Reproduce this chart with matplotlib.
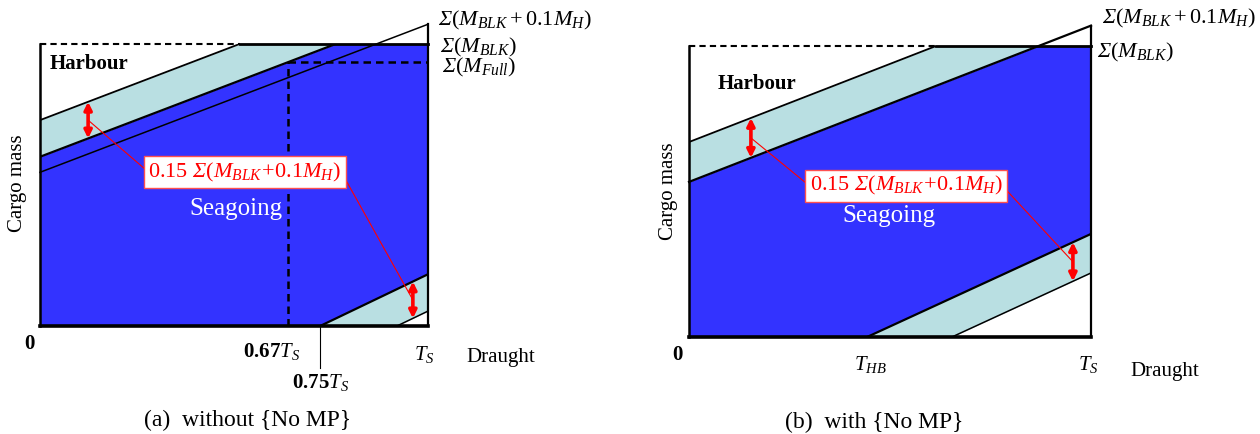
import numpy as np
import matplotlib
matplotlib.use("Agg")
import matplotlib.pyplot as plt

plt.rcParams['font.family'] = ['Liberation Serif', 'DejaVu Serif']
plt.rcParams['mathtext.fontset'] = 'custom'
plt.rcParams['mathtext.rm'] = 'Liberation Serif'
plt.rcParams['mathtext.it'] = 'Liberation Serif:italic'
plt.rcParams['mathtext.bf'] = 'Liberation Serif:bold'
# italic capital sigma (mathtext forces Greek capitals upright in \mathit)
plt.rcParams['mathtext.sf'] = 'Liberation Serif:italic'

# draught as fraction of T_S, cargo mass as fraction of sum(M_BLK)
# panel (a): without {No MP}
a_upper_slope = 0.525
a_upper_icpt = [0.73, 0.60, 0.545]      # harbour limit, seagoing limit, sum(M_BLK+0.1M_H)
a_lower_slope = 0.66
a_lower_start = [0.722, 0.92]            # seagoing lower limit, harbour lower limit
a_full_draught = 0.64
a_full_mass = 0.936
a_arrow_x = [0.124, 0.961]
a_xlabels = [r'$\mathbf{0.67}\mathit{T}_S$', r'$\mathbf{0.75}\mathit{T}_S$']

# panel (b): with {No MP}
b_upper_slope = 0.537
b_upper_icpt = [0.670, 0.533]
b_lower_slope = 0.636
b_lower_start = [0.443, 0.654]
b_arrow_x = [0.154, 0.955]

BLUE = '#3333ff'
LIGHT = '#b9dfe2'
RED = '#ff0000'
SIG = r'\mathsf{\Sigma}'
BOX_LABEL = r'0.15 $' + SIG + r'(M_{BLK}\!+\!0.1M_H)$'
LAB_TOT = r'$' + SIG + r'(M_{BLK}+0.1M_H)$'
LAB_BLK = r'$' + SIG + r'(M_{BLK})$'
LAB_FULL = r'$' + SIG + r'(M_{Full})$'

fig = plt.figure(figsize=(12.6, 4.34), dpi=100)
ax_a = fig.add_axes([40/1260, 108/434, 388/1260, 282/434])
ax_b = fig.add_axes([689/1260, 97/434, 402/1260, 291/434])

xs = np.linspace(0, 1, 801)


def panel(ax, s_up, icpt_up, s_lo, start_lo, arrow_x, box_xy, draw_l2_full, top):
    ax.set_xlim(0, 1)
    ax.set_ylim(0, 1)
    ax.axis('off')
    L1 = icpt_up[0] + s_up * xs
    L2 = icpt_up[1] + s_up * xs
    L4 = s_lo * (xs - start_lo[0])
    L5 = s_lo * (xs - start_lo[1])
    ax.fill_between(xs, np.minimum(L2, 1), np.minimum(L1, 1), color=LIGHT, lw=0)
    ax.fill_between(xs, np.maximum(L4, 0), np.minimum(L2, 1), color=BLUE, lw=0)
    ax.fill_between(xs, np.maximum(L5, 0), np.maximum(L4, 0), color=LIGHT, lw=0)

    x1 = (1 - icpt_up[0]) / s_up
    x2 = (1 - icpt_up[1]) / s_up
    ax.plot([0, x1], [icpt_up[0], 1], color='k', lw=1.3, zorder=3)
    if draw_l2_full:
        ax.plot([0, 1], [icpt_up[1], icpt_up[1] + s_up], color='k', lw=1.6,
                clip_on=False, zorder=3)
    else:
        ax.plot([0, x2], [icpt_up[1], 1], color='k', lw=1.6, zorder=3)
    ax.plot([start_lo[0], 1], [0, s_lo * (1 - start_lo[0])], color='k', lw=1.6, zorder=3)
    ax.plot([start_lo[1], 1], [0, s_lo * (1 - start_lo[1])], color='k', lw=1.1, zorder=3)

    # frame
    ax.plot([0, x1], [1, 1], color='k', lw=1.5, ls=(0, (3, 2)), clip_on=False, zorder=3)
    ax.plot([x1, 1], [1, 1], color='k', lw=2.0, clip_on=False, zorder=3)
    ax.plot([0, 0], [0, 1], color='k', lw=1.8, clip_on=False, zorder=3)
    ax.plot([0, 1], [0, 0], color='k', lw=2.6, clip_on=False, zorder=3)
    ax.plot([1, 1], [0, top], color='k', lw=1.6, clip_on=False, zorder=3)

    # 0.15 arrows
    mids = []
    spans = [(icpt_up[1] + s_up * arrow_x[0], icpt_up[0] + s_up * arrow_x[0]),
             (s_lo * (arrow_x[1] - start_lo[1]), s_lo * (arrow_x[1] - start_lo[0]))]
    for x, (lo, hi) in zip(arrow_x, spans):
        ax.annotate('', xy=(x, hi), xytext=(x, lo),
                    arrowprops=dict(arrowstyle='<|-|>', color=RED, lw=2.6,
                                    mutation_scale=11, shrinkA=0, shrinkB=0), zorder=6)
        mids.append((x, (lo + hi) / 2))
    t = ax.text(box_xy[0], box_xy[1], BOX_LABEL, color=RED, fontsize=16,
                ha='center', va='center', zorder=8,
                bbox=dict(boxstyle='square,pad=0.22', fc='white', ec='#ff5050', lw=1.0))
    for m, fx in zip(mids, [0, 1]):
        ax.annotate('', xy=m, xytext=(fx, 0.5), textcoords=t,
                    arrowprops=dict(arrowstyle='-', color=RED, lw=0.8,
                                    shrinkA=0, shrinkB=0), zorder=5)
    return t


panel(ax_a, a_upper_slope, a_upper_icpt, a_lower_slope, a_lower_start,
      a_arrow_x, (0.528, 0.546), False, a_upper_icpt[2] + a_upper_slope)
# thin line sum(M_BLK+0.1M_H) and the full-load corner
ax_a.plot([0, 1], [a_upper_icpt[2], a_upper_icpt[2] + a_upper_slope], color='k', lw=1.1,
          clip_on=False, zorder=3)
ax_a.plot([a_full_draught, a_full_draught], [0, a_full_mass], color='k', lw=1.8,
          ls=(0, (3, 2)), zorder=3)
ax_a.plot([a_full_draught, 1], [a_full_mass, a_full_mass], color='k', lw=1.8,
          ls=(0, (3, 2)), zorder=3)
ax_a.plot([a_lower_start[0], a_lower_start[0]], [0, -0.15], color='k', lw=0.8, clip_on=False)

ax_a.text(0.026, 0.93, 'Harbour', fontsize=15, fontweight='bold', ha='left', va='center')
ax_a.text(0.505, 0.415, 'Seagoing', fontsize=18, color='white', ha='center', va='center')
ax_a.text(-0.059, 0.507, 'Cargo mass', fontsize=15, rotation=90, ha='center', va='center')
ax_a.text(-0.028, -0.064, '0', fontsize=15, fontweight='bold', ha='center', va='center')
ax_a.text(0.598, -0.089, a_xlabels[0], fontsize=15, ha='center', va='center')
ax_a.text(0.722, -0.202, a_xlabels[1], fontsize=15, ha='center', va='center')
ax_a.text(0.99, -0.1, r'$\mathit{T}_S$', fontsize=15, ha='center', va='center')
ax_a.text(1.10, -0.113, 'Draught', fontsize=15, ha='left', va='center')
ax_a.text(1.026, 1.085, LAB_TOT, fontsize=16, ha='left', va='center')
ax_a.text(1.031, 0.989, LAB_BLK, fontsize=16, ha='left', va='center')
ax_a.text(1.036, 0.915, LAB_FULL, fontsize=16, ha='left', va='center')

panel(ax_b, b_upper_slope, b_upper_icpt, b_lower_slope, b_lower_start,
      b_arrow_x, (0.54, 0.519), True, b_upper_icpt[1] + b_upper_slope)

ax_b.text(0.072, 0.869, 'Harbour', fontsize=15, fontweight='bold', ha='left', va='center')
ax_b.text(0.4975, 0.416, 'Seagoing', fontsize=18, color='white', ha='center', va='center')
ax_b.text(-0.052, 0.5, 'Cargo mass', fontsize=15, rotation=90, ha='center', va='center')
ax_b.text(-0.03, -0.062, '0', fontsize=15, fontweight='bold', ha='center', va='center')
ax_b.text(0.45, -0.096, r'$\mathit{T}_{HB}$', fontsize=15, ha='center', va='center')
ax_b.text(0.993, -0.096, r'$\mathit{T}_S$', fontsize=15, ha='center', va='center')
ax_b.text(1.097, -0.12, 'Draught', fontsize=15, ha='left', va='center')
ax_b.text(1.027, 1.096, LAB_TOT, fontsize=16, ha='left', va='center')
ax_b.text(1.015, 0.976, LAB_BLK, fontsize=16, ha='left', va='center')

fig.text(248/1260, 1 - 420/434, '(a)  without {No MP}', fontsize=17, ha='center', va='center')
fig.text(874/1260, 1 - 422/434, '(b)  with {No MP}', fontsize=17, ha='center', va='center')

fig.savefig('out.png', dpi=100)
